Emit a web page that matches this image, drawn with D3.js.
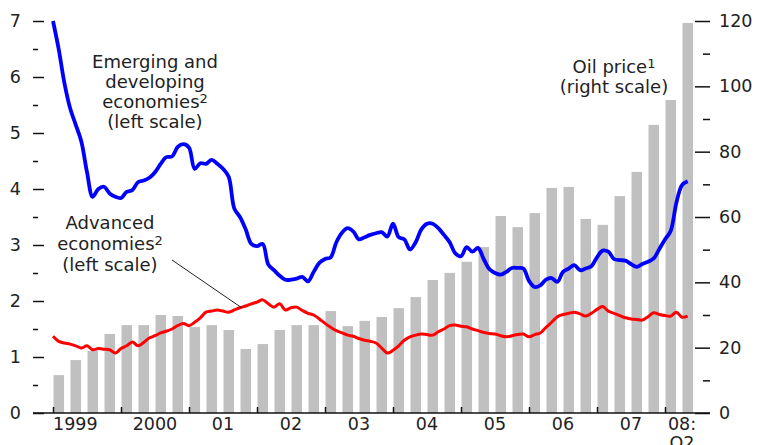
<!DOCTYPE html>
<html>
<head>
	<script type="text/javascript" src="https://cdn.jsdelivr.net/npm/d3@7"></script>
	<style>
		body { margin: 0; background: #fff; }
		text { font-family: "DejaVu Sans", sans-serif; fill: #222; }
	</style>
</head>
<body>
	<script type="text/javascript">

		// quarterly oil price, 1999 Q1 - 2008 Q2 (right scale)
		var oilPrice = [11.6, 16.2, 19.0, 24.2, 26.9, 26.9, 30.0, 29.7, 26.3, 26.9, 25.4, 19.6,
			21.1, 25.4, 26.9, 26.9, 31.2, 26.6, 28.2, 29.4, 32.1, 35.5, 40.7, 42.9,
			46.3, 50.8, 60.3, 56.9, 61.2, 68.9, 69.2, 59.4, 57.6, 66.4, 73.8, 88.2,
			95.8, 119.4];

		// monthly, Jan 1999 onwards (left scale)
		var emerging = [7.00, 6.50, 5.90, 5.45, 5.15, 4.85, 4.30, 3.86, 4.00, 4.04, 3.92, 3.86,
			3.84, 3.95, 3.98, 4.12, 4.15, 4.20, 4.30, 4.45, 4.57, 4.58, 4.75, 4.80,
			4.74, 4.36, 4.46, 4.45, 4.52, 4.45, 4.36, 4.22, 3.65, 3.50, 3.28, 3.02,
			2.98, 3.02, 2.65, 2.55, 2.45, 2.38, 2.38, 2.40, 2.43, 2.35, 2.52, 2.68,
			2.75, 2.78, 3.05, 3.22, 3.30, 3.24, 3.10, 3.14, 3.18, 3.21, 3.23, 3.15,
			3.38, 3.14, 3.10, 2.92, 3.05, 3.28, 3.38, 3.38, 3.30, 3.18, 3.05, 2.85,
			2.80, 2.96, 2.88, 2.95, 2.75, 2.57, 2.50, 2.47, 2.52, 2.59, 2.59, 2.58,
			2.36, 2.25, 2.28, 2.38, 2.41, 2.34, 2.52, 2.58, 2.64, 2.55, 2.58, 2.62,
			2.78, 2.90, 2.88, 2.75, 2.73, 2.72, 2.66, 2.61, 2.66, 2.70, 2.76, 2.93,
			3.10, 3.25, 3.75, 4.07, 4.14];

		var advanced = [1.37, 1.28, 1.25, 1.23, 1.20, 1.16, 1.20, 1.13, 1.15, 1.14, 1.13, 1.07,
			1.15, 1.20, 1.27, 1.20, 1.26, 1.34, 1.38, 1.43, 1.46, 1.50, 1.56, 1.60,
			1.56, 1.62, 1.70, 1.80, 1.82, 1.84, 1.82, 1.80, 1.84, 1.88, 1.91, 1.95,
			1.98, 2.02, 1.95, 1.89, 1.95, 1.84, 1.88, 1.89, 1.83, 1.78, 1.75, 1.68,
			1.60, 1.53, 1.47, 1.43, 1.39, 1.37, 1.33, 1.30, 1.28, 1.25, 1.16, 1.07,
			1.12, 1.20, 1.30, 1.36, 1.39, 1.41, 1.40, 1.39, 1.45, 1.50, 1.56, 1.57,
			1.55, 1.54, 1.50, 1.47, 1.44, 1.42, 1.41, 1.38, 1.36, 1.38, 1.40, 1.41,
			1.36, 1.40, 1.43, 1.53, 1.62, 1.72, 1.76, 1.78, 1.80, 1.77, 1.73, 1.78,
			1.85, 1.90, 1.82, 1.78, 1.74, 1.70, 1.68, 1.67, 1.66, 1.72, 1.79, 1.76,
			1.74, 1.73, 1.80, 1.71, 1.73];

		var yearLabels = ["1999", "2000", "01", "02", "03", "04", "05", "06", "07", "08:"];
		var leftTicks = [0, 1, 2, 3, 4, 5, 6, 7];
		var rightTicks = [0, 20, 40, 60, 80, 100, 120];

		var width = 758, height = 445;
		var base = 413;

		// months since Jan 1999
		var x = d3.scaleLinear().domain([0, 114]).range([53, 699]);
		var yLeft = d3.scaleLinear().domain([0, 7]).range([base, 21]);
		var yRight = d3.scaleLinear().domain([0, 120]).range([base, 21]);

		var svg = d3.select('body')
			.append('svg')
			.attr('width', width)
			.attr('height', height);

		// bars
		var monthW = x(1) - x(0);
		svg.selectAll('rect.oil')
			.data(oilPrice)
			.enter()
			.append('rect')
			.attr('class', 'oil')
			.attr('x', function(d, i) { return x(i * 3) + 0.5; })
			.attr('width', monthW * 3 * 0.62)
			.attr('y', function(d) { return yRight(d); })
			.attr('height', function(d) { return base - yRight(d); })
			.attr('fill', '#c0c0c0');

		// lines
		var line = function(scale) {
			return d3.line()
				.x(function(d, i) { return x(i); })
				.y(function(d) { return scale(d); })
				.curve(d3.curveCatmullRom.alpha(0.5));
		};

		svg.append('path')
			.datum(advanced)
			.attr('d', line(yLeft))
			.attr('fill', 'none')
			.attr('stroke', '#ff0000')
			.attr('stroke-width', 3)
			.attr('stroke-linejoin', 'round');

		svg.append('path')
			.datum(emerging)
			.attr('d', line(yLeft))
			.attr('fill', 'none')
			.attr('stroke', '#0000ff')
			.attr('stroke-width', 3.8)
			.attr('stroke-linejoin', 'round');

		// axes
		function clean(g) {
			g.select('.domain').remove();
			g.selectAll('line').attr('stroke', '#111').attr('stroke-width', 1.5);
			g.selectAll('text').attr('font-size', 17.5).attr('fill', '#222')
				.attr('font-family', '"DejaVu Sans", sans-serif');
		}

		svg.append('g')
			.attr('transform', 'translate(44,0)')
			.call(d3.axisLeft(yLeft).tickValues(leftTicks).tickSize(11).tickPadding(12).tickFormat(d3.format('d')))
			.call(clean);

		svg.append('g')
			.attr('transform', 'translate(38,0)')
			.call(d3.axisLeft(yLeft).tickValues(d3.range(0.5, 7, 1)).tickSize(5).tickFormat(''))
			.call(clean);

		svg.append('g')
			.attr('transform', 'translate(695,0)')
			.call(d3.axisRight(yRight).tickValues(rightTicks).tickSize(15).tickPadding(9).tickFormat(d3.format('d')))
			.call(clean);

		svg.append('g')
			.attr('transform', 'translate(703,0)')
			.call(d3.axisRight(yRight).tickValues(d3.range(10, 120, 20)).tickSize(7).tickFormat(''))
			.call(clean);

		svg.append('g')
			.attr('transform', 'translate(0,' + base + ')')
			.call(d3.axisBottom(x).tickValues(d3.range(0, 109, 12)).tickSizeInner(-6).tickSizeOuter(0).tickFormat(''))
			.call(clean);

		svg.append('line')
			.attr('x1', 33).attr('x2', 710)
			.attr('y1', base).attr('y2', base)
			.attr('stroke', '#111')
			.attr('stroke-width', 1.5);

		// year labels
		svg.selectAll('text.year')
			.data(yearLabels)
			.enter()
			.append('text')
			.attr('class', 'year')
			.attr('x', function(d, i) {
				if (i == 0) return x(0);
				if (i == 9) return x(111);
				return x(i * 12 + 6);
			})
			.attr('y', 430)
			.attr('text-anchor', function(d, i) { return i == 0 ? 'start' : 'middle'; })
			.attr('font-size', 17.5)
			.text(function(d) { return d; });

		svg.append('text')
			.attr('x', x(111))
			.attr('y', 449)
			.attr('text-anchor', 'middle')
			.attr('font-size', 17.5)
			.text('Q2');

		// annotations
		function note(lines, cx, y0, step) {
			var t = svg.append('text')
				.attr('text-anchor', 'middle')
				.attr('font-size', 18);
			lines.forEach(function(l, i) {
				var ts = t.append('tspan')
					.attr('x', cx)
					.attr('y', y0 + i * step)
					.text(l[0]);
				if (l[1]) {
					ts.append('tspan').attr('font-size', 13).attr('dy', -5).text(l[1]);
				}
			});
		}

		note([["Emerging and"], ["developing"], ["economies", "2"], ["(left scale)"]], 155, 68, 20);
		note([["Advanced"], ["economies", "2"], ["(left scale)"]], 110, 229, 21);
		note([["Oil price", "1"], ["(right scale)"]], 614, 73, 20);

		svg.append('line')
			.attr('x1', 172).attr('y1', 260)
			.attr('x2', 242).attr('y2', 308)
			.attr('stroke', '#222')
			.attr('stroke-width', 1);

	</script>

</body>
</html>
